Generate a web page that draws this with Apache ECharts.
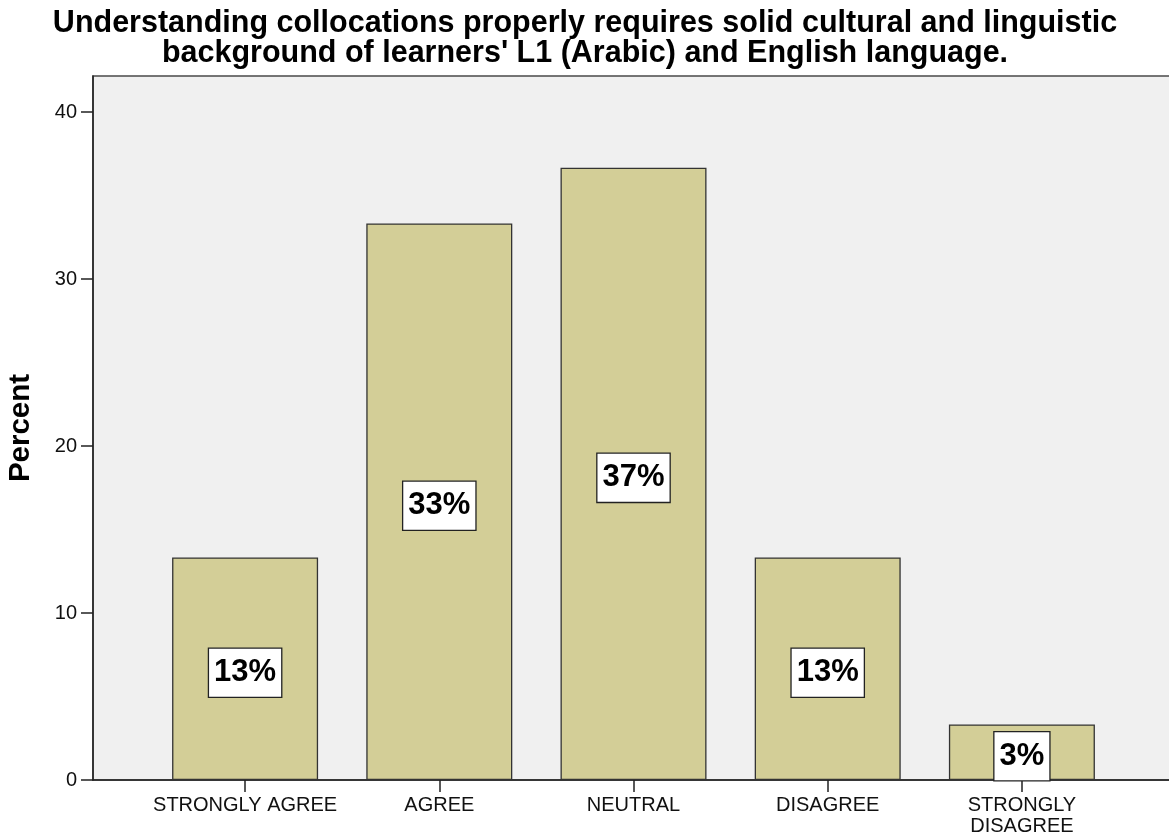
<!DOCTYPE html>
<html>
<head>
<meta charset="utf-8">
<script src="https://cdn.jsdelivr.net/npm/echarts@6/dist/echarts.min.js"></script>
<style>
  html, body { margin: 0; padding: 0; background: #ffffff; }
  #chart { width: 1169px; height: 840px; }
</style>
</head>
<body>
<div id="chart"></div>
<script>
// Survey responses (percent of respondents)
const categories = ['STRONGLY AGREE', 'AGREE', 'NEUTRAL', 'DISAGREE', 'STRONGLY\nDISAGREE'];
const percents = [13.33, 33.33, 36.67, 13.33, 3.33];
const yTicks = [0, 10, 20, 30, 40];
const titleText = "Understanding collocations properly requires solid cultural and linguistic\nbackground of learners' L1 (Arabic) and English language.";

const FONT = '"Liberation Sans", Arial, sans-serif';
const Y_MAX = 42.16;

const chart = echarts.init(document.getElementById('chart'), null, { renderer: 'canvas' });

chart.setOption({
  backgroundColor: '#ffffff',
  animation: false,
  title: {
    text: titleText,
    left: 580,
    top: 4,
    textAlign: 'center',
    textStyle: {
      fontFamily: FONT,
      fontWeight: 'bold',
      fontSize: 30.5,
      lineHeight: 30,
      color: '#000000'
    }
  },
  grid: [
    // plot frame with grey panel
    { left: 93, top: 76, right: -10, bottom: 60, show: true, outerBoundsMode: 'none',
      backgroundColor: '#f0f0f0', borderColor: '#4a4a4a', borderWidth: 1.5 },
    // band area holding the bars
    { left: 148, top: 76, right: 50, bottom: 60, outerBoundsMode: 'none' }
  ],
  xAxis: [
    { gridIndex: 0, type: 'value', min: 0, max: 1,
      axisLine: { show: true, lineStyle: { color: '#222', width: 1.5 } },
      axisTick: { show: false }, axisLabel: { show: false }, splitLine: { show: false } },
    { gridIndex: 1, type: 'category', data: categories,
      axisLine: { show: false },
      axisTick: { show: true, alignWithLabel: true, length: 12, lineStyle: { color: '#222', width: 1.5 } },
      axisLabel: { margin: 15, fontFamily: FONT, fontSize: 20, lineHeight: 21, color: '#111', interval: 0 },
      splitLine: { show: false } }
  ],
  yAxis: [
    { gridIndex: 0, type: 'value', min: 0, max: Y_MAX,
      name: 'Percent', nameLocation: 'middle', nameGap: 57, nameRotate: 90,
      nameTextStyle: { fontFamily: FONT, fontWeight: 'bold', fontSize: 29.5, color: '#000' },
      axisLine: { show: true, lineStyle: { color: '#222', width: 1.5 } },
      axisTick: { show: true, length: 12, customValues: yTicks, lineStyle: { color: '#222', width: 1.5 } },
      axisLabel: { customValues: yTicks, margin: 16, fontFamily: FONT, fontSize: 20, color: '#111',
        padding: [7, 0, 0, 0] },
      splitLine: { show: false } },
    { gridIndex: 1, type: 'value', min: 0, max: Y_MAX, show: false, splitLine: { show: false } }
  ],
  series: [{
    type: 'bar',
    xAxisIndex: 1,
    yAxisIndex: 1,
    data: percents,
    barWidth: 146,
    itemStyle: { color: '#d3ce97', borderColor: '#333333', borderWidth: 1.3 },
    label: {
      show: true,
      position: 'inside',
      offset: [0, 4],
      formatter: p => Math.round(p.value) + '%',
      fontFamily: FONT,
      fontWeight: 'bold',
      fontSize: 31,
      lineHeight: 36,
      color: '#000',
      backgroundColor: '#ffffff',
      borderColor: '#222222',
      borderWidth: 1.3,
      padding: [6, 5, 6, 5]
    }
  }]
});
</script>
</body>
</html>
